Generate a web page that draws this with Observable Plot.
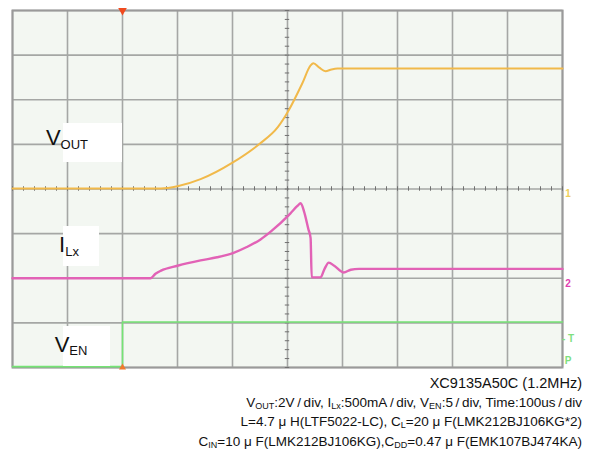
<!DOCTYPE html>
<html>
<head>
<meta charset="utf-8">
<script src="https://cdn.jsdelivr.net/npm/d3@7"></script>
<script src="https://cdn.jsdelivr.net/npm/@observablehq/plot@0.6"></script>
<style>
  body { margin: 0; background: #fff; font-family: "Liberation Sans", Arial, sans-serif; }
  #wrap { width: 592px; }
  #cap { text-align: right; padding-right: 10px; margin-top: 4px; font-size: 13.5px; line-height: 19.2px; color: #111; }
  #cap .l1 { font-size: 14.5px; }
  #cap sub { font-size: 9px; vertical-align: -2px; line-height: 0; }
</style>
</head>
<body>
<div id="wrap"></div>
<script>
// time axis in µs (100 µs/div), vertical axis in screen divisions (0 = bottom, 8 = top)
const voutT = [0, 270, 300, 342, 400, 450, 482, 502, 527, 542, 547, 558, 569, 580, 591, 1000];
const voutY = [4.01, 4.01, 4.06, 4.22, 4.59, 5.02, 5.38, 5.76, 6.37, 6.77, 6.82, 6.72, 6.64, 6.68, 6.70, 6.70];

const ilxT = [0, 251, 260, 270, 300, 342, 372, 402, 426, 451, 470, 505, 518, 524, 530, 538, 542, 544, 560, 567, 575, 585, 602, 615, 630, 1000];
const ilxY = [2.0, 2.0, 2.1, 2.17, 2.28, 2.40, 2.47, 2.57, 2.70, 2.87, 3.05, 3.45, 3.62, 3.68, 3.5, 3.1, 2.9, 2.02, 2.02, 2.2, 2.35, 2.28, 2.13, 2.19, 2.21, 2.21];

const venT = [0, 200, 200, 1000];
const venY = [0.02, 0.02, 1.02, 1.02];

const xGrid = [0, 100, 200, 300, 400, 500, 600, 700, 800, 900, 1000];
const yGrid = [0, 1, 2, 3, 4, 5, 6, 7, 8];
const triggerT = [200];

const vout = voutT.map((t, i) => ({t, y: voutY[i]}));
const ilx = ilxT.map((t, i) => ({t, y: ilxY[i]}));
const ven = venT.map((t, i) => ({t, y: venY[i]}));

const minorY = d3.range(0, 8.001, 0.2);
const minorX = d3.range(0, 1000.1, 20);

const plot = Plot.plot({
  width: 592,
  height: 370,
  marginLeft: 12,
  marginRight: 30,
  marginTop: 10,
  marginBottom: 3,
  x: {domain: [0, 1000], axis: null},
  y: {domain: [0, 8], axis: null},
  style: {background: "white", overflow: "visible"},
  marks: [
    Plot.frame({fill: "#f3f7f2", stroke: null}),
    Plot.gridX(xGrid, {stroke: "#a5a7a5", strokeOpacity: 1, strokeWidth: 1.6}),
    Plot.gridY(yGrid, {stroke: "#a5a7a5", strokeOpacity: 1, strokeWidth: 1.6}),
    Plot.frame({stroke: "#9a9a9a", strokeWidth: 2}),
    Plot.ruleY(minorY, {y: d => d, x1: 496, x2: 504, stroke: "#707070", strokeWidth: 1}),
    Plot.ruleX(minorX, {x: d => d, y1: 3.95, y2: 4.05, stroke: "#707070", strokeWidth: 1}),
    Plot.line(ven, {x: "t", y: "y", stroke: "#74e474", strokeWidth: 1.6}),
    Plot.line(ilx, {x: "t", y: "y", stroke: "#e262b6", strokeWidth: 2.4, curve: "monotone-x"}),
    Plot.line(vout, {x: "t", y: "y", stroke: "#f1b94a", strokeWidth: 2, curve: "monotone-x"}),
    Plot.dot(triggerT, {x: d => d, y: 8, symbol: "triangle", rotate: 180, r: 3.2, fill: "#f04a1e", stroke: null}),
    Plot.dot(triggerT, {x: d => d, y: 0, symbol: "triangle", r: 2.6, fill: "#f07a2e", stroke: null})
  ]
});

document.getElementById("wrap").appendChild(plot);

// trace labels with subscripts
const svg = d3.select(plot);
const labels = [
  {box: [63, 123, 59, 39], main: "V", sub: "OUT", x: 67, base: 145, subBase: 149},
  {box: [63, 226, 36, 40], main: "I", sub: "Lx", x: 69, base: 252, subBase: 256},
  {box: [63, 326, 47, 40], main: "V", sub: "EN", x: 71, base: 352, subBase: 355}
];
labels.forEach(l => {
  svg.append("rect").attr("x", l.box[0]).attr("y", l.box[1]).attr("width", l.box[2]).attr("height", l.box[3]).attr("fill", "#fff");
  const t = svg.append("text").attr("x", l.x).attr("y", l.base)
    .attr("font-family", "Liberation Sans, Arial, sans-serif").attr("fill", "#111");
  t.append("tspan").attr("font-size", 22).text(l.main);
  t.append("tspan").attr("font-size", 13).attr("dy", l.subBase - l.base).text(l.sub);
});

// channel markers on the right
const marks = [
  {txt: "1", y: 197, c: "#f0cf5a"},
  {txt: "2", y: 287, c: "#e040b0"},
  {txt: "- T", y: 342, c: "#7ee07e"},
  {txt: "P", y: 364, c: "#7ee07e"}
];
marks.forEach(m => {
  svg.append("text").attr("x", 568).attr("y", m.y).attr("font-size", 10).attr("font-weight", "bold")
    .attr("font-family", "Liberation Sans, Arial, sans-serif").attr("fill", m.c).text(m.txt);
});

const cap = document.createElement("div");
cap.id = "cap";
const s = "\u2009/\u2009";
cap.innerHTML = "<span class='l1'>XC9135A50C (1.2MHz)</span><br>" +
  "V<sub>OUT</sub>:2V" + s + "div, I<sub>Lx</sub>:500mA" + s + "div, V<sub>EN</sub>:5" + s + "div, Time:100us" + s + "div<br>" +
  "L=4.7 μ H(LTF5022-LC), C<sub>L</sub>=20 μ F(LMK212BJ106KG*2)<br>" +
  "C<sub>IN</sub>=10 μ F(LMK212BJ106KG),C<sub>DD</sub>=0.47 μ F(EMK107BJ474KA)";
document.getElementById("wrap").appendChild(cap);
</script>
</body>
</html>
